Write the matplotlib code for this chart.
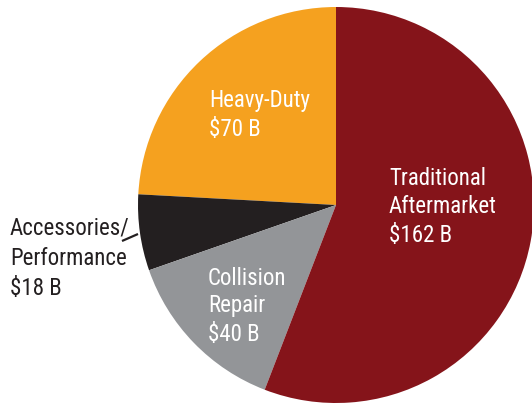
import matplotlib
matplotlib.use("Agg")
import matplotlib.pyplot as plt

categories = ["Heavy-Duty", "Accessories/\nPerformance", "Collision\nRepair", "Traditional\nAftermarket"]
values = [70, 18, 40, 162]
value_labels = ["$70 B", "$18 B", "$40 B", "$162 B"]
colors = ["#F5A11F", "#231F20", "#939598", "#85141A"]

W, H = 532, 404
fig = plt.figure(figsize=(W / 100, H / 100), dpi=100)
ax = fig.add_axes([0, 0, 1, 1])

ax.pie(values, colors=colors, startangle=90, counterclock=True,
       center=(336, H - 205), radius=198, frame=True,
       wedgeprops=dict(linewidth=0))
ax.set_xlim(0, W)
ax.set_ylim(0, H)
ax.set_aspect("equal")
ax.axis("off")

fam = ["Roboto Condensed", "DejaVu Sans"]
fs = 16.5

def lab(x, baselines, lines, color):
    for yb, t in zip(baselines, lines):
        ax.text(x, H - yb, t, color=color, fontsize=fs, family=fam,
                ha="left", va="baseline")

lab(209, [107, 136], categories[0].split("\n") + [value_labels[0]], "white")
lab(389, [185, 213, 242], categories[3].split("\n") + [value_labels[3]], "white")
lab(208, [285, 312, 341], categories[2].split("\n") + [value_labels[2]], "white")
lab(10, [234, 265, 295], categories[1].split("\n") + [value_labels[1]], "#231F20")

ax.plot([122, 138], [H - 241, H - 234], color="#231F20", linewidth=1.6,
        solid_capstyle="butt")

fig.savefig("out.png", dpi=100)
